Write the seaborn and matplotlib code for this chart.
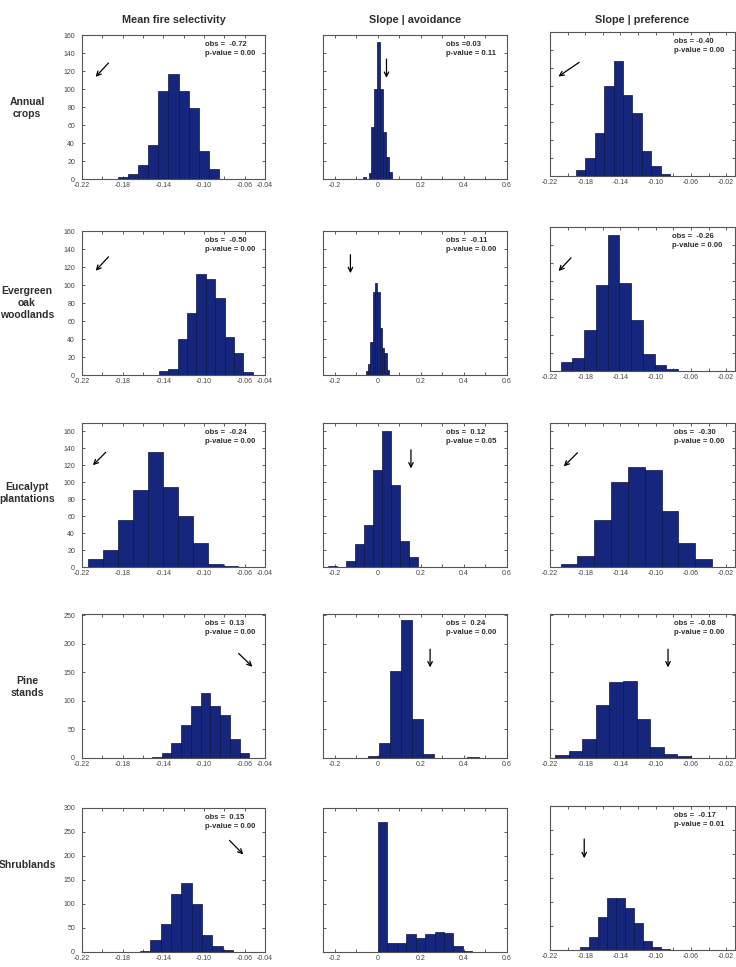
import numpy as np
import pandas as pd
import seaborn as sns
import matplotlib.pyplot as plt

# ---- data (10 bins per histogram unless noted) ----
habitats = ['Annual\ncrops', 'Evergreen\noak\nwoodlands', 'Eucalypt\nplantations', 'Pine\nstands', 'Shrublands']
metrics = ['Mean fire selectivity', 'Slope | avoidance', 'Slope | preference']

# Mean fire selectivity: (first edge, last edge) and counts
fire_ranges = [(-0.185, -0.085), (-0.1444, -0.0521), (-0.2138, -0.0662), (-0.1513, -0.0553), (-0.173, -0.0714)]
fire_counts = [
    [2, 6, 16, 38, 98, 117, 98, 79, 31, 11],
    [5, 7, 40, 69, 112, 107, 86, 42, 24, 3],
    [10, 20, 56, 91, 136, 94, 60, 28, 4, 1],
    [1, 9, 26, 58, 91, 114, 91, 75, 34, 9],
    [1, 3, 25, 58, 120, 143, 99, 36, 13, 4],
]

# Slope | avoidance
avoid_ranges = [(-0.070, 0.064), (-0.056, 0.051), (-0.232, 0.188), (-0.048, 0.468), (0.0, 0.439)]
avoid_counts = [
    [2, 0, 7, 58, 100, 152, 100, 52, 24, 8],
    [4, 12, 37, 92, 102, 92, 52, 30, 24, 6],
    [1, 0, 7, 27, 49, 114, 160, 97, 31, 12],
    [4, 27, 153, 241, 68, 7, 0, 0, 0, 1],
    [270, 18, 18, 38, 30, 38, 41, 39, 13, 2],
]

# Slope | preference (Eucalypt has 9 bins)
pref_ranges = [(-0.1907, -0.0837), (-0.2079, -0.0746), (-0.208, -0.036), (-0.214, -0.0603), (-0.186, -0.084)]
pref_counts = [
    [7, 20, 48, 100, 128, 90, 70, 28, 11, 2],
    [10, 14, 46, 96, 151, 98, 57, 19, 7, 2],
    [3, 13, 55, 100, 118, 114, 66, 28, 10],
    [5, 13, 33, 93, 133, 135, 68, 19, 7, 4],
    [7, 28, 69, 108, 108, 88, 56, 19, 6, 2],
]

obs_text = [
    ['obs =  -0.72\np-value = 0.00', 'obs =0.03\np-value = 0.11', 'obs = -0.40\np-value = 0.00'],
    ['obs =  -0.50\np-value = 0.00', 'obs =  -0.11\np-value = 0.00', 'obs =  -0.26\np-value = 0.00'],
    ['obs =  -0.24\np-value = 0.00', 'obs =  0.12\np-value = 0.05', 'obs =  -0.30\np-value = 0.00'],
    ['obs =  0.13\np-value = 0.00', 'obs =  0.24\np-value = 0.00', 'obs =  -0.08\np-value = 0.00'],
    ['obs =  0.15\np-value = 0.00', None, 'obs =  -0.17\np-value = 0.01'],
]

# arrows (start, end) in axes fraction
arrows = [
    [((0.155, 0.82), (0.064, 0.695)), ((0.345, 0.852), (0.345, 0.683)), ((0.17, 0.80), (0.033, 0.68))],
    [((0.155, 0.835), (0.064, 0.71)), ((0.149, 0.855), (0.149, 0.688)), ((0.124, 0.80), (0.036, 0.68))],
    [((0.14, 0.81), (0.049, 0.693)), ((0.478, 0.833), (0.478, 0.665)), ((0.159, 0.807), (0.064, 0.685))],
    [((0.845, 0.74), (0.942, 0.62)), ((0.582, 0.775), (0.582, 0.61)), ((0.638, 0.775), (0.638, 0.61))],
    [((0.795, 0.789), (0.892, 0.664)), None, ((0.185, 0.79), (0.185, 0.618))],
]

row_ylim = [160, 160, 170, 252, 300]
row_ystep = [20, 20, 20, 50, 50]

# ---- style ----
sns.set_style('ticks')
plt.rcParams['font.family'] = ['Liberation Sans', 'DejaVu Sans']

bar_color = '#15267c'
edge_color = '#0b1446'
text_color = '#2e2e2e'

W, H = 736, 967
fig = plt.figure(figsize=(W / 100, H / 100), dpi=100)

col_x = [(82, 265), (323, 507), (550, 735)]
row_top = [35, 231, 423, 614, 808]
col3_shift = [-3, -4, 0, 0, -2]
ax_h = 144


def make_edges(rng, n):
    return np.linspace(rng[0], rng[1], n + 1).tolist()


all_ranges = [fire_ranges, avoid_ranges, pref_ranges]
all_counts = [fire_counts, avoid_counts, pref_counts]

for r in range(5):
    for c in range(3):
        x0, x1 = col_x[c]
        top = row_top[r] + (col3_shift[r] if c == 2 else 0)
        ax = fig.add_axes([x0 / W, 1 - (top + ax_h) / H, (x1 - x0) / W, ax_h / H])

        counts = all_counts[c][r]
        edges = make_edges(all_ranges[c][r], len(counts))
        mids = [(a + b) / 2 for a, b in zip(edges[:-1], edges[1:])]
        df = pd.DataFrame({'x': mids, 'n': counts})
        sns.histplot(data=df, x='x', weights='n', bins=edges, ax=ax,
                     color=bar_color, alpha=1, edgecolor=edge_color, linewidth=0.5)

        # x axis
        if c == 0:
            ticks = np.round(np.arange(-0.22, -0.039, 0.02), 2)
            shown = [-0.22, -0.18, -0.14, -0.10, -0.06, -0.04]
            ax.set_xlim(-0.22, -0.04)
            labels = [f'{t:.2f}' if t in shown else '' for t in ticks]
        elif c == 1:
            ticks = np.round(np.arange(-0.2, 0.61, 0.1), 1)
            shown = [-0.2, 0.0, 0.2, 0.4, 0.6]
            ax.set_xlim(-0.255, 0.6)
            labels = [('0' if t == 0 else f'{t:.1f}') if t in shown else '' for t in ticks]
        else:
            ticks = np.round(np.arange(-0.22, -0.019, 0.02), 2)
            shown = [-0.22, -0.18, -0.14, -0.10, -0.06, -0.02]
            ax.set_xlim(-0.22, -0.01)
            labels = [f'{t:.2f}' if t in shown else '' for t in ticks]
        ax.set_xticks(ticks)
        ax.set_xticklabels(labels)

        # y axis
        ax.set_ylim(0, row_ylim[r])
        ax.set_yticks(np.arange(0, row_ylim[r] + 0.5, row_ystep[r]))
        if c != 0:
            ax.set_yticklabels([])

        ax.set_xlabel('')
        ax.set_ylabel('')
        ax.tick_params(direction='in', length=2.5, width=0.6, top=True, right=True,
                       labelsize=5, colors='#444444')
        ax.tick_params(axis='x', pad=2.5)
        ax.tick_params(axis='y', pad=5)
        for s in ax.spines.values():
            s.set_visible(True)
            s.set_linewidth(0.8)
            s.set_color('#555555')

        if obs_text[r][c]:
            tx = 0.657 if (r, c) == (1, 2) else 0.67
            ax.text(tx, 0.955, obs_text[r][c], transform=ax.transAxes, ha='left', va='top',
                    fontsize=5.5, fontweight='bold', color=text_color, linespacing=1.35)
        if arrows[r][c]:
            (sx, sy), (ex, ey) = arrows[r][c]
            ax.annotate('', xy=(ex, ey), xytext=(sx, sy), xycoords='axes fraction',
                        arrowprops=dict(arrowstyle='->', lw=0.9, color='black', mutation_scale=8))

# column titles on one line
for c in range(3):
    x0, x1 = col_x[c]
    fig.text((x0 + x1) / 2 / W, 1 - 20 / H, metrics[c], ha='center', va='center',
             fontsize=7.8, fontweight='bold', color=text_color)

row_label_y = [108, 303, 493, 687, 865]
for r in range(5):
    fig.text(27 / W, 1 - row_label_y[r] / H, habitats[r], ha='center', va='center',
             fontsize=7.5, fontweight='bold', color=text_color, linespacing=1.3)

plt.savefig('out.png', dpi=100)
